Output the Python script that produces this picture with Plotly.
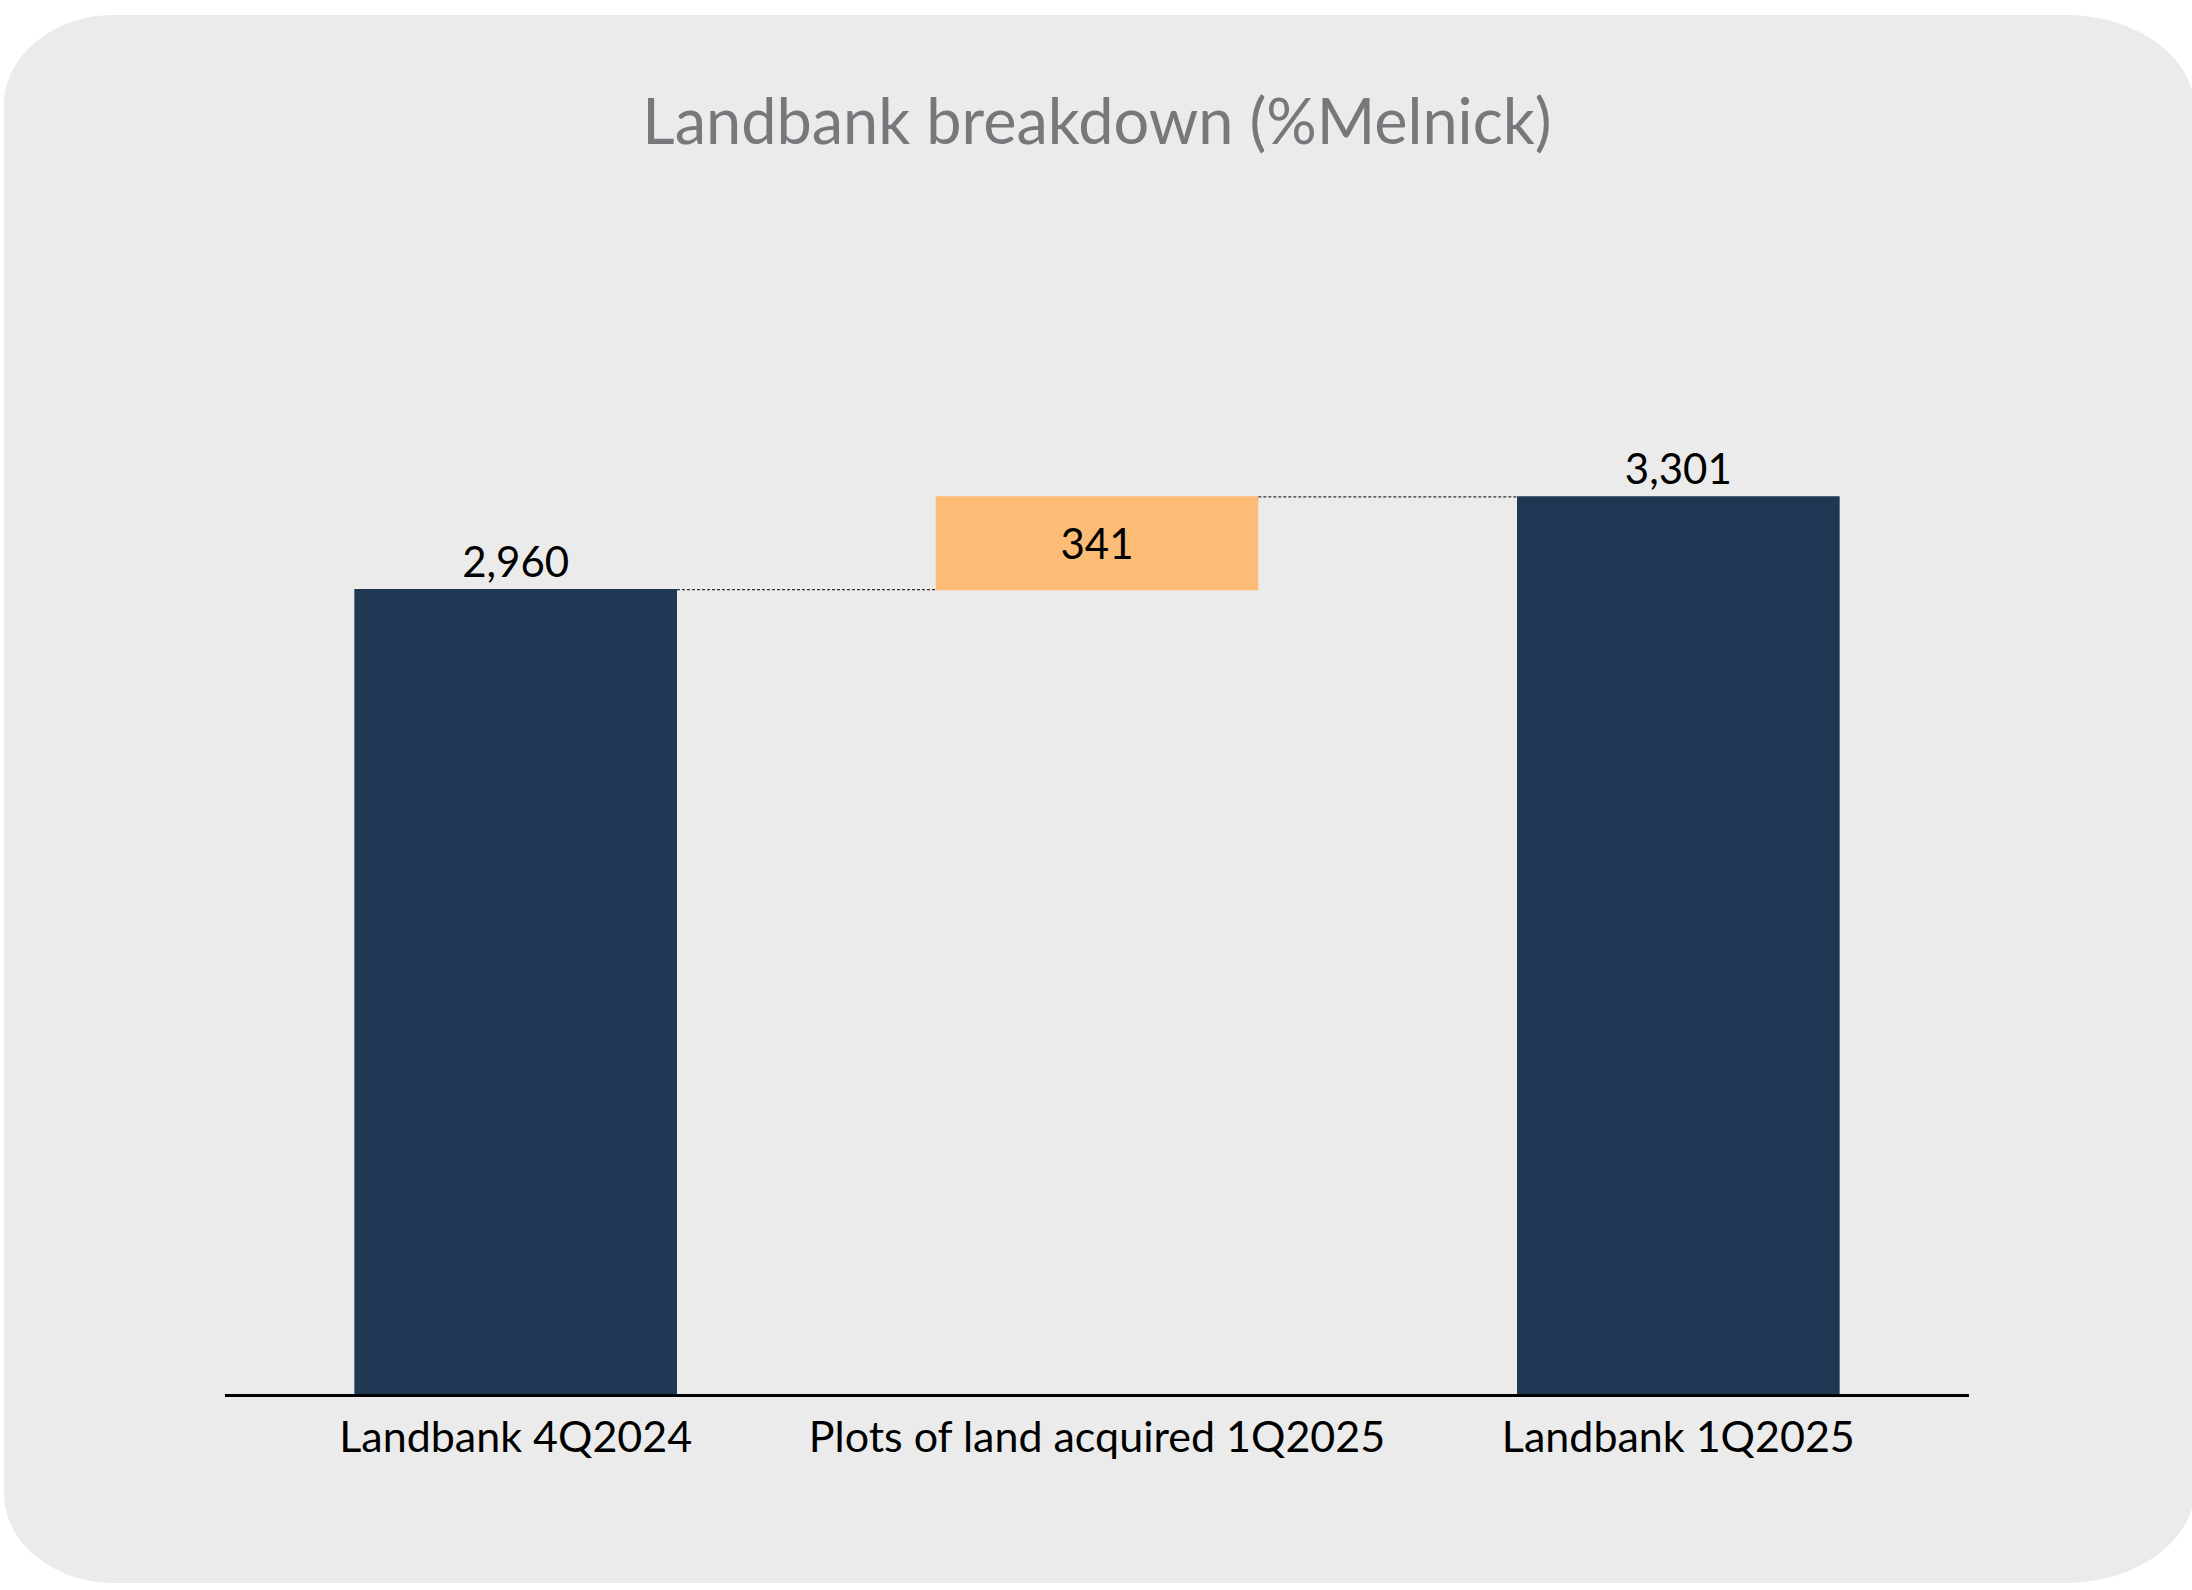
import plotly.graph_objects as go

# ---- data ----
categories = ["Landbank 4Q2024", "Plots of land acquired 1Q2025", "Landbank 1Q2025"]
values = [2960, 341, 3301]
measures = ["absolute", "relative", "total"]
labels = [f"{v:,}" for v in values]
title_text = "Landbank breakdown (%Melnick)"

# ---- layout geometry (pixels) ----
W, H = 2192, 1590
ML, MR, MT, MB = 225, 223, 171, 196
PW, PH = W - ML - MR, H - MT - MB

def px(x):
    return (x - ML) / PW

def py(y):
    return (H - MB - y) / PH

# rounded background panel path in paper coords
x0, x1, y0, y1 = 4, 2195, 15, 1583
rxl, ryl, rxr, ryr = 110, 90, 130, 95
k = 0.5523
path = (
    f"M {px(x0+rxl)} {py(y0)} "
    f"L {px(x1-rxr)} {py(y0)} "
    f"C {px(x1-rxr+k*rxr)} {py(y0)} {px(x1)} {py(y0+ryr-k*ryr)} {px(x1)} {py(y0+ryr)} "
    f"L {px(x1)} {py(y1-ryr)} "
    f"C {px(x1)} {py(y1-ryr+k*ryr)} {px(x1-rxr+k*rxr)} {py(y1)} {px(x1-rxr)} {py(y1)} "
    f"L {px(x0+rxl)} {py(y1)} "
    f"C {px(x0+rxl-k*rxl)} {py(y1)} {px(x0)} {py(y1-ryl+k*ryl)} {px(x0)} {py(y1-ryl)} "
    f"L {px(x0)} {py(y0+ryl)} "
    f"C {px(x0)} {py(y0+ryl-k*ryl)} {px(x0+rxl-k*rxl)} {py(y0)} {px(x0+rxl)} {py(y0)} Z"
)

NAVY = "#1E3752"
ORANGE = "#FDBC75"
FONT = "Lato"

fig = go.Figure(go.Waterfall(
    x=categories,
    y=values,
    measure=measures,
    text=labels,
    textposition=["outside", "inside", "outside"],
    insidetextanchor="middle",
    constraintext="none",
    textfont=dict(family=FONT, size=42, color="black"),
    increasing=dict(marker=dict(color=ORANGE)),
    decreasing=dict(marker=dict(color=ORANGE)),
    totals=dict(marker=dict(color=NAVY)),
    connector=dict(mode="between", line=dict(color="#333333", width=1.3, dash="3px,2px")),
    width=[0.555, 0.555, 0.555],
    cliponaxis=False,
))

fig.update_layout(
    width=W, height=H,
    margin=dict(l=ML, r=MR, t=MT, b=MB, pad=0),
    paper_bgcolor="white",
    plot_bgcolor="rgba(0,0,0,0)",
    showlegend=False,
    title=dict(
        text=title_text,
        x=0.5, xref="paper", xanchor="center",
        y=1 - 122 / H, yref="container", yanchor="middle",
        font=dict(family=FONT, size=63, color="#76787B"),
    ),
    font=dict(family=FONT, color="black"),
    shapes=[dict(
        type="path", xref="paper", yref="paper", path=path,
        fillcolor="#EBEBEB", line=dict(width=0), layer="below",
    )],
)

fig.update_xaxes(
    range=[-0.5, 2.5],
    showline=True, linecolor="black", linewidth=2.5,
    showgrid=False, zeroline=False,
    ticks="outside", ticklen=4, tickcolor="rgba(0,0,0,0)",
    tickfont=dict(family=FONT, size=43, color="black"),
)
fig.update_yaxes(
    range=[0, 4500],
    showticklabels=False, showgrid=False, zeroline=False, showline=False,
)

fig.write_html(
    "out.html",
    config={"displayModeBar": False},
    post_script="document.body.style.margin='0';",
)
